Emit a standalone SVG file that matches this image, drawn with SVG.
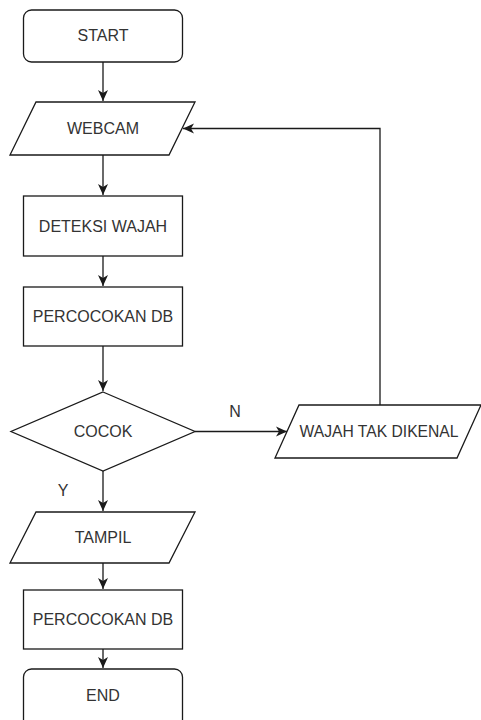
<svg xmlns="http://www.w3.org/2000/svg" width="481" height="720" viewBox="0 0 481 720">
<style>
.shape{fill:#fff;stroke:#1a1a1a;stroke-width:1.3}
.lbl{font-family:"Liberation Sans",Arial,sans-serif;font-size:16px;fill:#333;text-anchor:middle}
.edge{fill:none;stroke:#1a1a1a;stroke-width:1.3}
</style>
<defs>
<marker id="arr" markerUnits="userSpaceOnUse" markerWidth="12" markerHeight="12" refX="11" refY="5" orient="auto" viewBox="0 0 12 10">
<path d="M0,0 L11,5 L0,10 L3,5 Z" fill="#1a1a1a"/>
</marker>
</defs>
<rect width="481" height="720" fill="#fff"/>
<g id="start"><rect class="shape" x="23.5" y="10" width="159" height="52" rx="8"/><text class="lbl" x="103" y="41.2">START</text></g>
<g id="webcam"><polygon class="shape" points="36,102 195,102 169,155 10,155"/><text class="lbl" x="103" y="133.7">WEBCAM</text></g>
<g id="deteksi"><rect class="shape" x="23.5" y="196" width="159" height="60"/><text class="lbl" x="103" y="231.7">DETEKSI WAJAH</text></g>
<g id="percocokan1"><rect class="shape" x="23.5" y="287" width="159" height="59"/><text class="lbl" x="103" y="322.2">PERCOCOKAN DB</text></g>
<g id="cocok"><polygon class="shape" points="103,392 195,431.5 103,471 11,431.5"/><text class="lbl" x="103" y="437.2">COCOK</text></g>
<g id="wajah"><polygon class="shape" points="299,405 481,405 457,458 275,458"/><text class="lbl" x="379" y="437.2" textLength="159" lengthAdjust="spacingAndGlyphs">WAJAH TAK DIKENAL</text></g>
<g id="tampil"><polygon class="shape" points="36,512 195,512 169,563 10,563"/><text class="lbl" x="103" y="543.2">TAMPIL</text></g>
<g id="percocokan2"><rect class="shape" x="23.5" y="590" width="159" height="59"/><text class="lbl" x="103" y="625.2">PERCOCOKAN DB</text></g>
<g id="end"><rect class="shape" x="23.5" y="669" width="159" height="60" rx="8"/><text class="lbl" x="103" y="700.7">END</text></g>
<g id="connectors">
<path class="edge" d="M103,62 V101" marker-end="url(#arr)"/>
<path class="edge" d="M103,155 V195" marker-end="url(#arr)"/>
<path class="edge" d="M103,256 V286" marker-end="url(#arr)"/>
<path class="edge" d="M103,346 V391" marker-end="url(#arr)"/>
<path class="edge" d="M195,431.5 H287" marker-end="url(#arr)"/>
<path class="edge" d="M380,405 V128.5 H183" marker-end="url(#arr)"/>
<path class="edge" d="M103,471 V511" marker-end="url(#arr)"/>
<path class="edge" d="M103,563 V589" marker-end="url(#arr)"/>
<path class="edge" d="M103,649 V668" marker-end="url(#arr)"/>
<text class="lbl" x="235" y="417">N</text>
<text class="lbl" x="63" y="496">Y</text>
</g>
</svg>
